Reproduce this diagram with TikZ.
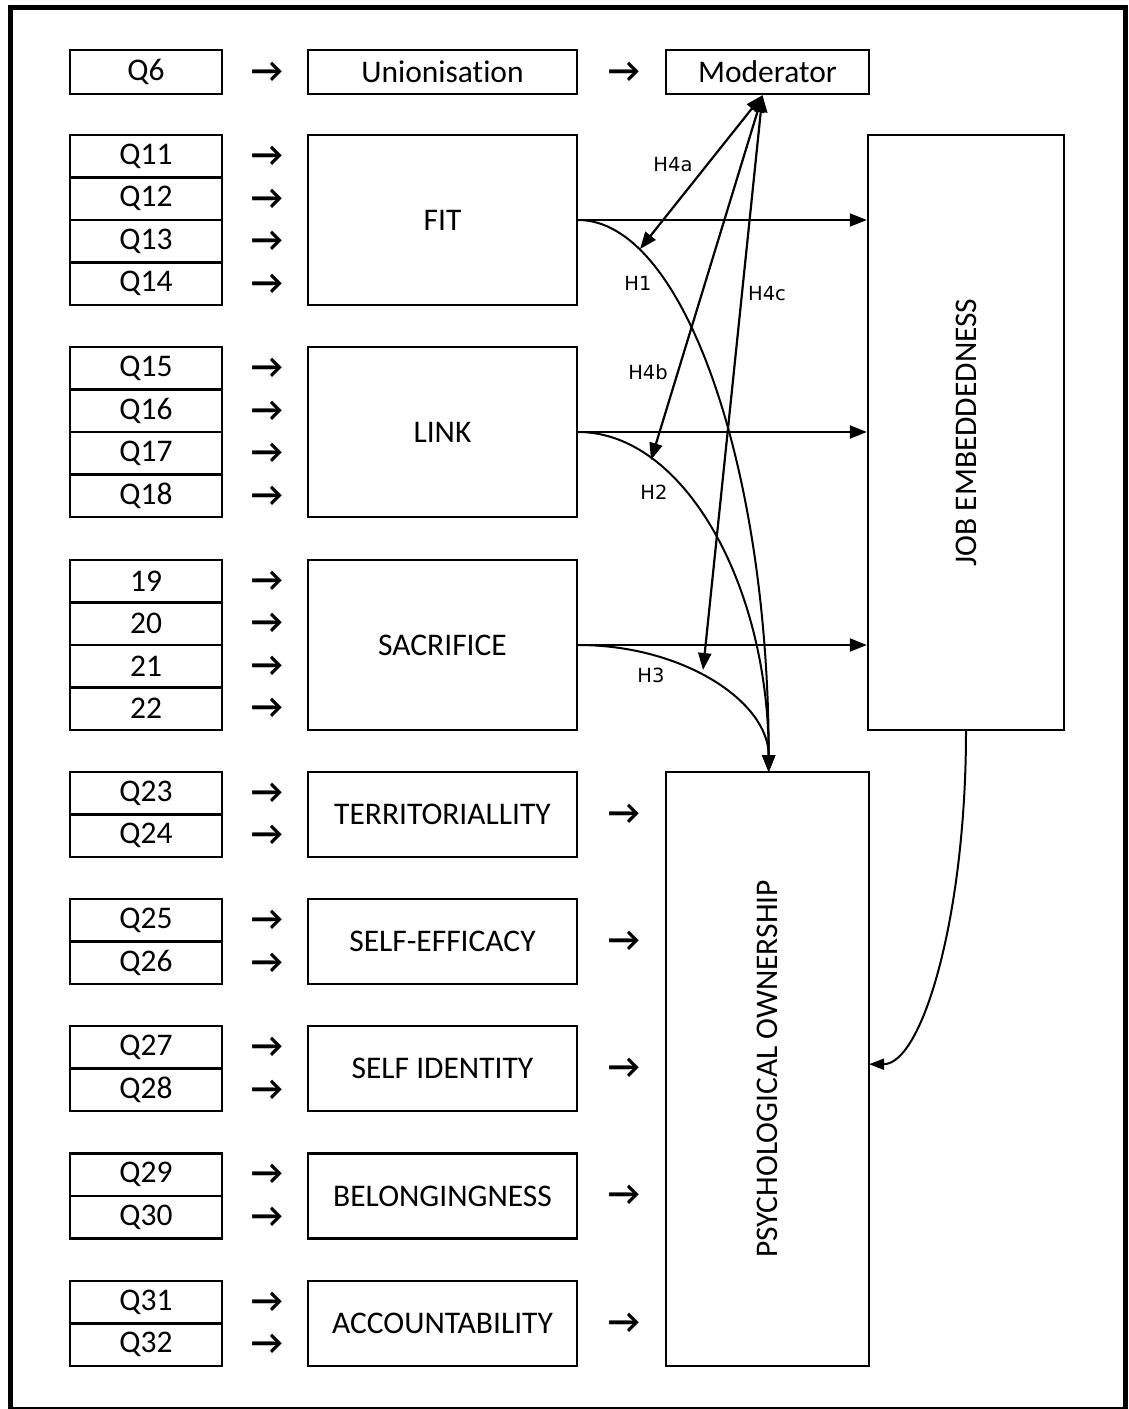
\documentclass[tikz,border=0pt]{standalone}
\usepackage{fontspec}
\setmainfont{Carlito}[Ligatures=NoCommon]
\newfontfamily\hfont{DejaVu Sans}
\usetikzlibrary{arrows.meta,calc}
\begin{document}
\begin{tikzpicture}[x=1pt,y=-1pt,
  box/.style={draw, line width=2.4pt, inner sep=0pt, font=\fontsize{31.5}{36}\selectfont},
  qbox/.style={box, minimum width=152pt, minimum height=42.5pt},
  mbox/.style={box, minimum width=269pt},
  glyph/.style={inner sep=0pt, font=\bfseries\fontsize{35}{40}\selectfont},
  hlab/.style={inner sep=0pt, font=\hfont\fontsize{19.5}{22}\selectfont},
  link/.style={line width=2.2pt, -{Triangle[length=17pt,width=13pt]}},
  dlink/.style={line width=2.2pt, {Triangle[length=17pt,width=13pt]}-{Triangle[length=17pt,width=13pt]}},
  curve/.style={line width=2pt, -{Triangle[length=17pt,width=13pt]}},
  jcurve/.style={line width=2pt, -{Triangle[length=15pt,width=11pt]}}]
\useasboundingbox (0,0) rectangle (1128,1409);
\draw[line width=4.5pt] (10.5,7.5) rectangle (1125.5,1409);

% top row
\node[qbox, minimum height=44pt] (q6) at (146,72) {Q6};
\node[mbox, minimum height=44pt] (union) at (442.5,72) {Unionisation};
\node[box, minimum width=203pt, minimum height=44pt] (mod) at (767.5,72) {Moderator};

% question cells
\foreach \n/\y in {11/156.25,12/198.75,13/241.25,14/283.75,
                   15/368.25,16/410.75,17/453.25,18/495.75,
                   23/793.25,24/835.75,25/920.25,26/962.75,
                   27/1047.25,28/1089.75,29/1174.75,30/1217.25,
                   31/1302.25,32/1344.75}
  \node[qbox] (q\n) at (146,\y) {Q\n};
\foreach \n/\y in {19/581.25,20/623.75,21/666.25,22/708.75}
  \node[qbox] (q\n) at (146,\y) {\n};

% construct boxes
\node[mbox, minimum height=170pt] (fit) at (442.5,220) {FIT};
\node[mbox, minimum height=170pt] (link) at (442.5,432) {LINK};
\node[mbox, minimum height=170pt] (sac) at (442.5,645) {SACRIFICE};
\node[mbox, minimum height=85pt] (terr) at (442.5,814.5) {TERRITORIALLITY};
\node[mbox, minimum height=85pt] (eff) at (442.5,941.5) {SELF-EFFICACY};
\node[mbox, minimum height=85pt] (ident) at (442.5,1068.5) {SELF IDENTITY};
\node[mbox, minimum height=85pt] (bel) at (442.5,1196) {BELONGINGNESS};
\node[mbox, minimum height=85pt] (acc) at (442.5,1323.5) {ACCOUNTABILITY};

% outcome boxes
\node[box, minimum width=196pt, minimum height=595pt] (job) at (966,432.5) {};
\node[rotate=90, font=\fontsize{31.5}{36}\selectfont, inner sep=0pt] (jobt) at (job.center) {JOB EMBEDDEDNESS};
\node[box, minimum width=203pt, minimum height=594pt] (po) at (767.5,1069) {};
\node[rotate=90, font=\fontsize{31.5}{36}\selectfont, inner sep=0pt] (pot) at (po.center) {PSYCHOLOGICAL OWNERSHIP};

% arrow glyphs
\foreach \i/\y in {6/72,11/156,12/199,13/241,14/284,15/368,16/411,17/453,18/496,
                   19/581,20/623,21/666,22/708,23/793,24/835,25/920,26/963,
                   27/1047,28/1090,29/1174,30/1217,31/1302,32/1344}
  \node[glyph] (ga\i) at (267,\y) {→};
\foreach \i/\y in {u/72,t/814,e/941,i/1068,b/1195,a/1323}
  \node[glyph] (gb\i) at (624,\y) {→};

% direct effects on job embeddedness
\draw[link] (fit.east) -- (fit.east -| job.west);
\draw[link] (link.east) -- (link.east -| job.west);
\draw[link] (sac.east) -- (sac.east -| job.west);

% effects on psychological ownership
\draw[curve] (fit.east) arc[start angle=-90, end angle=0, x radius=190.5, y radius=552];
\draw[curve] (link.east) arc[start angle=-90, end angle=0, x radius=190.5, y radius=340];
\draw[curve] (sac.east) arc[start angle=-90, end angle=0, x radius=190.5, y radius=127];

% job embeddedness -> psychological ownership
\draw[jcurve] (job.south) arc[start angle=0, end angle=90, x radius=97, y radius=333];

% moderator links
\coordinate (mp) at ([xshift=-5pt]mod.south);
\coordinate (t4a) at (640,249);
\coordinate (t4b) at (651,460);
\coordinate (t4c) at (703,670);
\draw[dlink] (mp) -- (t4a);
\draw[dlink] (mp) -- (t4b);
\draw[dlink] (mp) -- (t4c);

% labels
\node[hlab] (h4a) at (673,165) {H4a};
\node[hlab] (h1) at (638,283) {H1};
\node[hlab] (h4c) at (767,294) {H4c};
\node[hlab] (h4b) at (648,372) {H4b};
\node[hlab] (h2) at (654,492) {H2};
\node[hlab] (h3) at (651,675) {H3};
\end{tikzpicture}
\end{document}
